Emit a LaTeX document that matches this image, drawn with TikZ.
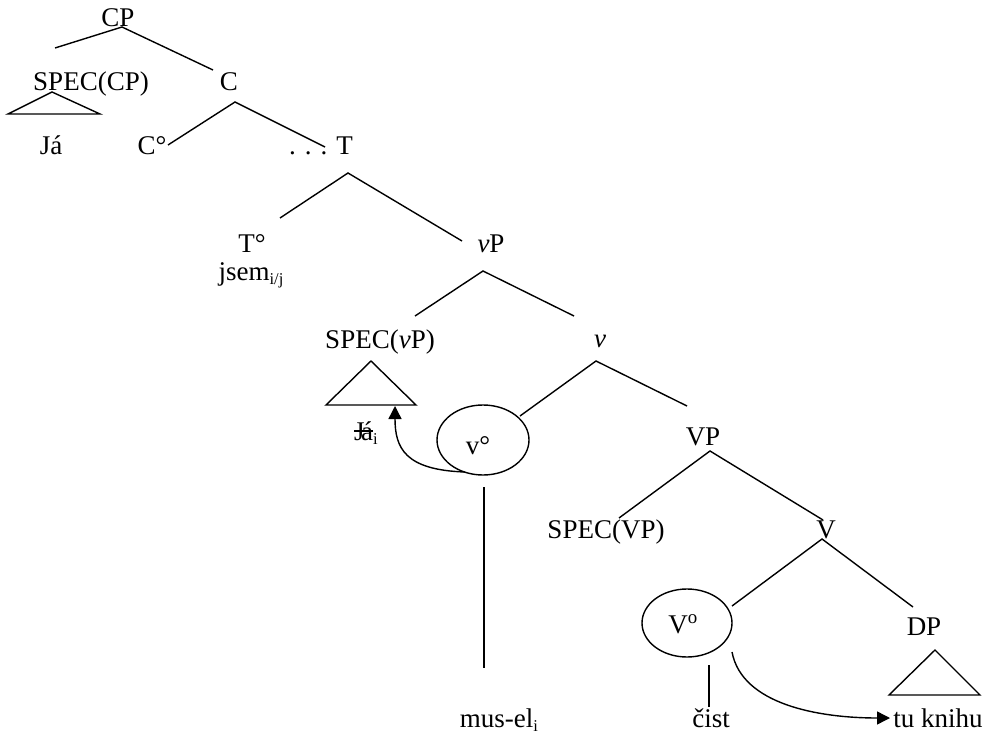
\documentclass[tikz,border=0pt]{standalone}
\usepackage{fontspec}
\setmainfont{Liberation Serif}
\usetikzlibrary{arrows.meta,shapes.geometric}
\newcommand{\sbs}[1]{\raisebox{-0.18em}{\fontsize{16.5}{16.5}\selectfont #1}}
\newcommand{\strk}[1]{\setbox0\hbox{#1}\rlap{\rule[0.3em]{\wd0}{0.06em}}\box0}
\begin{document}
\begin{tikzpicture}[x=1pt,y=-1pt,
  lbl/.style={anchor=base,inner sep=0pt,font=\fontsize{27}{31}\selectfont},
  br/.style={line width=1.4pt},
  tri/.style={line width=1.4pt,line join=miter},
  mv/.style={line width=1.4pt,-{Triangle[length=13pt,width=13pt]}},
  oval/.style={draw,ellipse,line width=1.4pt,inner sep=0pt}]
\useasboundingbox (0,0) rectangle (990,735);
% labels
\node[lbl] (CP) at (118,27) {CP};
\node[lbl] (SPECCP) at (91,91) {SPEC(CP)};
\node[lbl] (C) at (229,91) {C};
\node[lbl] (Ja) at (51,155) {Já};
\node[lbl] (Co) at (152,155) {C°};
\node[lbl] (T) at (321,155) {. . . T};
\node[lbl] (To) at (252,253) {T°};
\node[lbl] (jsem) at (251,280) {jsem\sbs{i/j}};
\node[lbl] (vP) at (491,253) {\textit{v}P};
\node[lbl] (SPECvP) at (380,348) {SPEC(\textit{v}P)};
\node[lbl] (v) at (600,347) {\textit{v}};
\node[lbl] (Jai) at (366,440) {\strk{J\kern-3.5pt á}\sbs{i}};
\node[oval,minimum width=92pt,minimum height=70pt] (voc) at (483,440) {};
\node[lbl] (vo) at (478,454) {v°};
\node[lbl] (VP) at (703,445) {VP};
\node[lbl] (SPECVP) at (606,538) {SPEC(VP)};
\node[lbl] (V) at (826,538) {V};
\node[oval,minimum width=90pt,minimum height=68pt] (Voc) at (687,623) {};
\node[lbl] (Vo) at (683,633) {V\textsuperscript{o}};
\node[lbl] (DP) at (924,635) {DP};
\node[lbl] (cist) at (711,727) {čist};
\node[lbl] (tk) at (938,727) {tu knihu};
\node[lbl] (musel) at (499,727) {mus-el\sbs{i}};
% branch points
\coordinate (aCP) at (122,27); \coordinate (lCP) at (55,48); \coordinate (rCP) at (213,70);
\coordinate (aC) at (235,102); \coordinate (lC) at (168,145); \coordinate (rC) at (325,147);
\coordinate (aT) at (348,173); \coordinate (lT) at (280,218); \coordinate (rT) at (462,241);
\coordinate (avP) at (483,271); \coordinate (lvP) at (415,316); \coordinate (rvP) at (574,316);
\coordinate (av) at (596,361); \coordinate (lv) at (520,416); \coordinate (rv) at (687,406);
\coordinate (aVP) at (710,451); \coordinate (lVP) at (619,518); \coordinate (rVP) at (823,520);
\coordinate (aV) at (822,539); \coordinate (lV) at (732,606); \coordinate (rV) at (913,607);
\draw[br] (lCP) -- (aCP) -- (rCP);
\draw[br] (lC) -- (aC) -- (rC);
\draw[br] (lT) -- (aT) -- (rT);
\draw[br] (lvP) -- (avP) -- (rvP);
\draw[br] (lv) -- (av) -- (rv);
\draw[br] (lVP) -- (aVP) -- (rVP);
\draw[br] (lV) -- (aV) -- (rV);
% vertical lines
\coordinate (vt1) at (484,487); \coordinate (vb1) at (484,668);
\coordinate (vt2) at (709,665); \coordinate (vb2) at (709,707);
\draw[br] (vt1) -- (vb1);
\draw[br] (vt2) -- (vb2);
% triangles
\coordinate (t1a) at (52,92); \coordinate (t1l) at (8,114); \coordinate (t1r) at (100,114);
\coordinate (t2a) at (371,361); \coordinate (t2l) at (326,405); \coordinate (t2r) at (416,405);
\coordinate (t3a) at (935,650); \coordinate (t3l) at (889,695); \coordinate (t3r) at (980,695);
\draw[tri] (t1a) -- (t1l) -- (t1r) -- cycle;
\draw[tri] (t2a) -- (t2l) -- (t2r) -- cycle;
\draw[tri] (t3a) -- (t3l) -- (t3r) -- cycle;
% movement arrows
\coordinate (m1s) at (465,472); \coordinate (m1e) at (395,406);
\draw[mv] (m1s) .. controls (405,470) and (395,448) .. (m1e);
\coordinate (m2s) at (732,652); \coordinate (m2e) at (890,718);
\draw[mv] (m2s) .. controls (742,705) and (820,718) .. (m2e);
\end{tikzpicture}
\end{document}
